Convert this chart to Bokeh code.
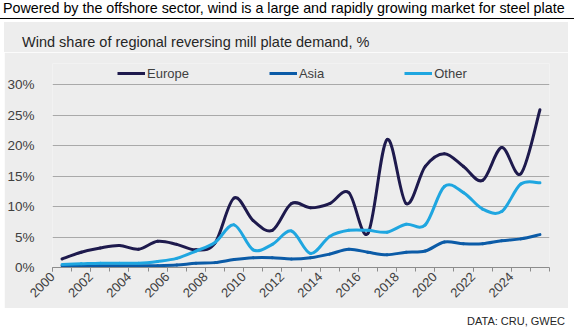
import math
from bokeh.plotting import figure
from bokeh.models import (Range1d, FixedTicker, Legend, LegendItem, Div, ColumnDataSource)
from bokeh.layouts import column
from bokeh.embed import file_html
from bokeh.resources import INLINE

years = [str(y) for y in range(2000, 2026)]
europe = [1.4, 2.5, 3.2, 3.6, 3.0, 4.3, 3.8, 2.9, 4.0, 11.4, 7.7, 6.1, 10.5,
          9.8, 10.5, 12.3, 5.6, 21.0, 10.5, 16.6, 18.7, 16.6, 14.3, 19.7, 15.4, 25.9]
asia = [0.3, 0.3, 0.3, 0.3, 0.3, 0.3, 0.4, 0.7, 0.8, 1.3, 1.6, 1.6, 1.4,
        1.6, 2.2, 3.0, 2.5, 2.1, 2.5, 2.7, 4.2, 3.9, 3.9, 4.4, 4.7, 5.4]
other = [0.5, 0.6, 0.7, 0.7, 0.7, 1.0, 1.5, 2.7, 4.1, 7.0, 2.9, 3.8, 6.0,
         2.3, 5.1, 6.1, 6.1, 5.8, 7.1, 7.0, 13.3, 12.3, 9.6, 9.2, 13.7, 13.9]
series_names = ["Europe", "Asia", "Other"]
series_values = [europe, asia, other]
colors = ["#1e1a4d", "#0b5ba7", "#1fa6e0"]
y_ticks = [0, 5, 10, 15, 20, 25, 30]
y_labels = ["0%", "5%", "10%", "15%", "20%", "25%", "30%"]
title = "Powered by the offshore sector, wind is a large and rapidly growing market for steel plate"
subtitle = "Wind share of regional reversing mill plate demand, %"
source_note = "DATA: CRU, GWEC"

FONT = "Liberation Sans"
GRAY_BG = "#ededed"

xpos = [i + 0.5 for i in range(len(years))]

p = figure(width=564, height=256, x_range=Range1d(0, len(years)), y_range=Range1d(0, 33.5),
           output_backend="svg", toolbar_location=None,
           min_border_left=39, min_border_right=19, min_border_top=11, min_border_bottom=41,
           background_fill_color=GRAY_BG, border_fill_color=GRAY_BG, outline_line_color=None,
           margin=(0, 0, 0, 4))


def bezier_parts(xs, ys, t=1.0 / 6.0):
    n = len(xs)
    out = dict(x0=[], y0=[], x1=[], y1=[], cx0=[], cy0=[], cx1=[], cy1=[])
    for i in range(n - 1):
        xa, ya = xs[i], ys[i]
        xb, yb = xs[i + 1], ys[i + 1]
        xm, ym = (xs[i - 1], ys[i - 1]) if i > 0 else (xa, ya)
        xp, yp = (xs[i + 2], ys[i + 2]) if i + 2 < n else (xb, yb)
        out["x0"].append(xa); out["y0"].append(ya)
        out["x1"].append(xb); out["y1"].append(yb)
        out["cx0"].append(xa + (xb - xm) * t); out["cy0"].append(ya + (yb - ym) * t)
        out["cx1"].append(xb - (xp - xa) * t); out["cy1"].append(yb - (yp - ya) * t)
    return out


items = []
for name, vals, col in zip(series_names, series_values, colors):
    src = ColumnDataSource(bezier_parts(xpos, vals))
    p.bezier(x0="x0", y0="y0", x1="x1", y1="y1", cx0="cx0", cy0="cy0", cx1="cx1", cy1="cy1",
             source=src, line_color=col, line_width=3, line_cap="round")
    key = p.line(x=xpos[:1], y=vals[:1], line_color=col, line_width=3)
    items.append(LegendItem(label=name, renderers=[key]))

legend = Legend(items=items, orientation="horizontal", location=(65, 184),
                background_fill_alpha=0, border_line_alpha=0, padding=0, margin=0,
                spacing=80, glyph_width=28, glyph_height=20, label_standoff=2,
                label_text_font=FONT, label_text_font_size="13px", label_text_color="#404040")
p.add_layout(legend, "center")

# axes
p.xgrid.visible = False
p.ygrid.ticker = FixedTicker(ticks=y_ticks)
p.ygrid.grid_line_color = "#a9a9a9"
p.ygrid.grid_line_width = 1

p.yaxis.ticker = FixedTicker(ticks=y_ticks)
p.yaxis.major_label_overrides = {t: l for t, l in zip(y_ticks, y_labels)}
p.yaxis.axis_line_color = None
p.yaxis.major_tick_line_color = None
p.yaxis.minor_tick_line_color = None
p.yaxis.major_label_standoff = 12
p.yaxis.major_label_text_font = FONT
p.yaxis.major_label_text_font_size = "13.5px"
p.yaxis.major_label_text_color = "#404040"

# Excel-style category axis: ticks on bin boundaries, every other year labelled
label_idx = list(range(0, len(years), 2))
p.xaxis.ticker = FixedTicker(ticks=label_idx, minor_ticks=list(range(len(years) + 1)))
p.xaxis.major_label_overrides = {i: years[i] for i in label_idx}
p.xaxis.major_tick_line_color = "#8c8c8c"
p.xaxis.major_tick_out = 4
p.xaxis.major_tick_in = 0
p.xaxis.minor_tick_line_color = "#8c8c8c"
p.xaxis.minor_tick_out = 4
p.xaxis.minor_tick_in = 0
p.xaxis.axis_line_color = "#8c8c8c"
p.xaxis.major_label_orientation = math.pi / 4
p.xaxis.major_label_standoff = 3
p.xaxis.major_label_text_font = FONT
p.xaxis.major_label_text_font_size = "13px"
p.xaxis.major_label_text_color = "#404040"

title_div = Div(text='<div style="font-family:\'Liberation Sans\',Arial;font-size:14.3px;color:#000;'
                     'width:574px;height:19px;line-height:17px;border-bottom:1px solid #000;'
                     'padding-left:3px;box-sizing:border-box;white-space:nowrap;">' + title + '</div>',
                width=574, height=22, margin=(0, 0, 0, 0))
subtitle_div = Div(text='<div style="font-family:\'Liberation Sans\',Arial;font-size:14.5px;color:#262626;'
                        'width:564px;height:30px;line-height:40px;background:' + GRAY_BG + ';'
                        'padding-left:18px;box-sizing:border-box;white-space:nowrap;overflow:visible;">'
                        + subtitle + '</div>',
                   width=564, height=30, margin=(0, 0, 0, 4))
source_div = Div(text='<div style="font-family:\'Liberation Sans\',Arial;font-size:11px;color:#262626;'
                      'width:565px;text-align:right;padding-top:6px;">' + source_note + '</div>',
                 width=574, height=23, margin=(0, 0, 0, 0))

layout = column(title_div, subtitle_div, p, source_div, spacing=0, margin=(0, 0, 0, 0))

open("out.html", "w").write(file_html(layout, INLINE))
